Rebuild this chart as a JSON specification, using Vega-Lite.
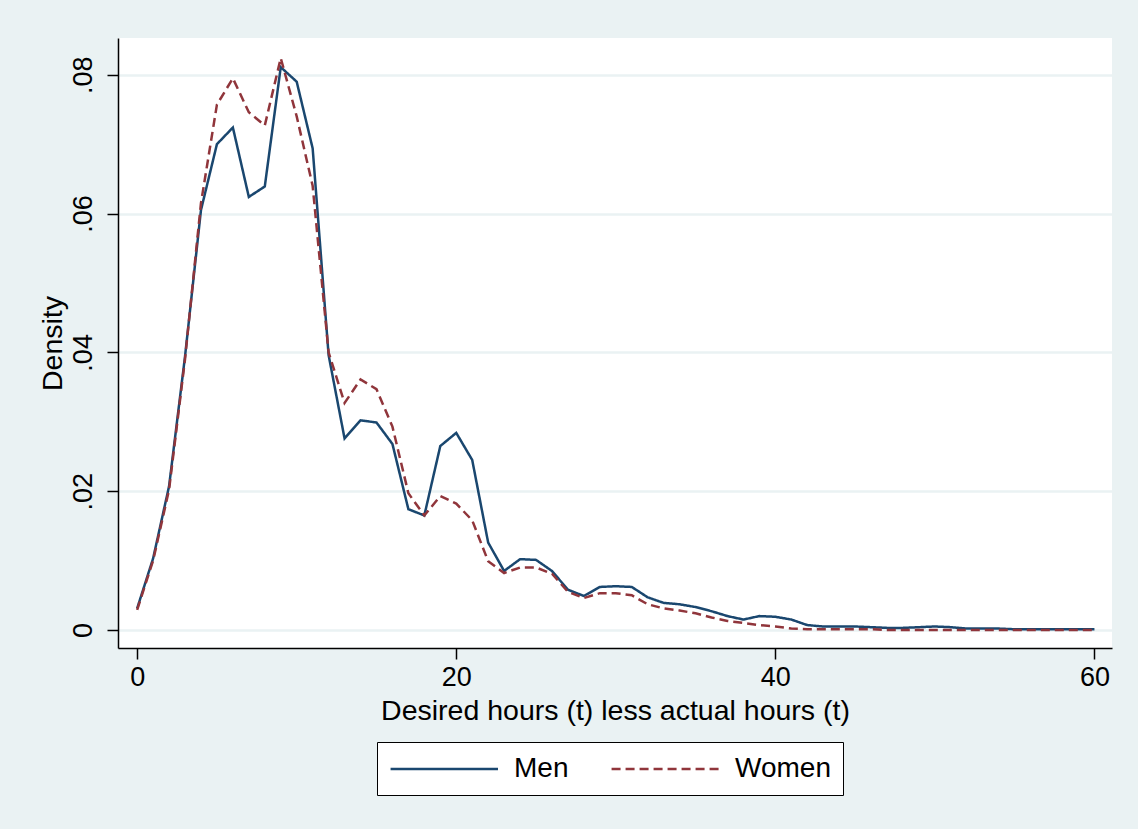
{
  "$schema": "https://vega.github.io/schema/vega-lite/v6.json",
  "autosize": "none",
  "width": 994,
  "height": 610,
  "padding": {"left": 118, "top": 38, "right": 26, "bottom": 181},
  "background": "#eaf2f3",
  "config": {
    "view": {"fill": "white", "stroke": null},
    "font": "Liberation Sans",
    "axis": {"labelFont": "Liberation Sans", "titleFont": "Liberation Sans", "labelColor": "black", "titleColor": "black", "titleFontWeight": "normal", "domainColor": "black", "tickColor": "black", "domainWidth": 1.5, "tickWidth": 1.5, "tickSize": 11}
  },
  "datasets": {
    "dens": [
      {"x":0,"g":"Men","d":0.0031},{"x":1,"g":"Men","d":0.0103},{"x":2,"g":"Men","d":0.0207},{"x":3,"g":"Men","d":0.0394},{"x":4,"g":"Men","d":0.0605},{"x":5,"g":"Men","d":0.0700},{"x":6,"g":"Men","d":0.0724},{"x":7,"g":"Men","d":0.0624},{"x":8,"g":"Men","d":0.0639},{"x":9,"g":"Men","d":0.0811},{"x":10,"g":"Men","d":0.0790},{"x":11,"g":"Men","d":0.0694},{"x":12,"g":"Men","d":0.0396},{"x":13,"g":"Men","d":0.0276},{"x":14,"g":"Men","d":0.0302},{"x":15,"g":"Men","d":0.0299},{"x":16,"g":"Men","d":0.0268},{"x":17,"g":"Men","d":0.0174},{"x":18,"g":"Men","d":0.0165},{"x":19,"g":"Men","d":0.0265},{"x":20,"g":"Men","d":0.0284},{"x":21,"g":"Men","d":0.0245},{"x":22,"g":"Men","d":0.0126},{"x":23,"g":"Men","d":0.0085},{"x":24,"g":"Men","d":0.0102},{"x":25,"g":"Men","d":0.0101},{"x":26,"g":"Men","d":0.0085},{"x":27,"g":"Men","d":0.0058},{"x":28,"g":"Men","d":0.0049},{"x":29,"g":"Men","d":0.0062},{"x":30,"g":"Men","d":0.0063},{"x":31,"g":"Men","d":0.0062},{"x":32,"g":"Men","d":0.0047},{"x":33,"g":"Men","d":0.0039},{"x":34,"g":"Men","d":0.0037},{"x":35,"g":"Men","d":0.0033},{"x":36,"g":"Men","d":0.0027},{"x":37,"g":"Men","d":0.0020},{"x":38,"g":"Men","d":0.0015},{"x":39,"g":"Men","d":0.0020},{"x":40,"g":"Men","d":0.0019},{"x":41,"g":"Men","d":0.0015},{"x":42,"g":"Men","d":0.0007},{"x":43,"g":"Men","d":0.0005},{"x":44,"g":"Men","d":0.0005},{"x":45,"g":"Men","d":0.0005},{"x":46,"g":"Men","d":0.0004},{"x":47,"g":"Men","d":0.0003},{"x":48,"g":"Men","d":0.0003},{"x":49,"g":"Men","d":0.0004},{"x":50,"g":"Men","d":0.0005},{"x":51,"g":"Men","d":0.0004},{"x":52,"g":"Men","d":0.0002},{"x":53,"g":"Men","d":0.0002},{"x":54,"g":"Men","d":0.0002},{"x":55,"g":"Men","d":0.0001},{"x":56,"g":"Men","d":0.0001},{"x":57,"g":"Men","d":0.0001},{"x":58,"g":"Men","d":0.0001},{"x":59,"g":"Men","d":0.0001},{"x":60,"g":"Men","d":0.0001},
      {"x":0,"g":"Women","d":0.0029},{"x":1,"g":"Women","d":0.0100},{"x":2,"g":"Women","d":0.0202},{"x":3,"g":"Women","d":0.0390},{"x":4,"g":"Women","d":0.0615},{"x":5,"g":"Women","d":0.0757},{"x":6,"g":"Women","d":0.0795},{"x":7,"g":"Women","d":0.0746},{"x":8,"g":"Women","d":0.0727},{"x":9,"g":"Women","d":0.0824},{"x":10,"g":"Women","d":0.0740},{"x":11,"g":"Women","d":0.0640},{"x":12,"g":"Women","d":0.0400},{"x":13,"g":"Women","d":0.0327},{"x":14,"g":"Women","d":0.0361},{"x":15,"g":"Women","d":0.0347},{"x":16,"g":"Women","d":0.0293},{"x":17,"g":"Women","d":0.0197},{"x":18,"g":"Women","d":0.0165},{"x":19,"g":"Women","d":0.0193},{"x":20,"g":"Women","d":0.0182},{"x":21,"g":"Women","d":0.0158},{"x":22,"g":"Women","d":0.0099},{"x":23,"g":"Women","d":0.0082},{"x":24,"g":"Women","d":0.0090},{"x":25,"g":"Women","d":0.0090},{"x":26,"g":"Women","d":0.0081},{"x":27,"g":"Women","d":0.0055},{"x":28,"g":"Women","d":0.0046},{"x":29,"g":"Women","d":0.0053},{"x":30,"g":"Women","d":0.0053},{"x":31,"g":"Women","d":0.0050},{"x":32,"g":"Women","d":0.0037},{"x":33,"g":"Women","d":0.0031},{"x":34,"g":"Women","d":0.0028},{"x":35,"g":"Women","d":0.0024},{"x":36,"g":"Women","d":0.0018},{"x":37,"g":"Women","d":0.0013},{"x":38,"g":"Women","d":0.0010},{"x":39,"g":"Women","d":0.0007},{"x":40,"g":"Women","d":0.0005},{"x":41,"g":"Women","d":0.0002},{"x":42,"g":"Women","d":0.0001},{"x":43,"g":"Women","d":0.0001},{"x":44,"g":"Women","d":0.0001},{"x":45,"g":"Women","d":0.0001},{"x":46,"g":"Women","d":0.0001},{"x":47,"g":"Women","d":0.0},{"x":48,"g":"Women","d":0.0},{"x":49,"g":"Women","d":0.0},{"x":50,"g":"Women","d":0.0},{"x":51,"g":"Women","d":0.0},{"x":52,"g":"Women","d":0.0},{"x":53,"g":"Women","d":0.0},{"x":54,"g":"Women","d":0.0},{"x":55,"g":"Women","d":0.0},{"x":56,"g":"Women","d":0.0},{"x":57,"g":"Women","d":0.0},{"x":58,"g":"Women","d":0.0},{"x":59,"g":"Women","d":0.0},{"x":60,"g":"Women","d":0.0}
    ]
  },
  "data": {"name": "dens"},
  "mark": {"type": "line", "strokeWidth": 2.5},
  "encoding": {
    "x": {
      "field": "x", "type": "quantitative",
      "scale": {"domain": [-1.2, 61.1], "nice": false, "zero": false},
      "axis": {"values": [0, 20, 40, 60], "grid": false, "title": "Desired hours (t) less actual hours (t)", "labelFontSize": 27, "titleFontSize": 28.5, "labelPadding": 5, "titlePadding": 6, "labelFlush": false}
    },
    "y": {
      "field": "d", "type": "quantitative",
      "scale": {"domain": [-0.0026, 0.0853], "nice": false, "zero": false},
      "axis": {"values": [0, 0.02, 0.04, 0.06, 0.08], "grid": true, "gridColor": "#eaf2f3", "gridWidth": 2.5, "title": "Density", "labelFontSize": 27, "titleFontSize": 28.5, "labelAngle": -90, "labelAlign": "center", "labelBaseline": "alphabetic", "labelPadding": 16, "titlePadding": 2, "labelFlush": false,
        "labelExpr": "datum.value == 0 ? '0' : substring(format(datum.value, '.2f'), 1)"}
    },
    "color": {
      "field": "g", "type": "nominal",
      "scale": {"domain": ["Men", "Women"], "range": ["#1a476f", "#90353b"]},
      "legend": {"title": null, "orient": "none", "legendX": 259, "legendY": 704, "direction": "horizontal", "strokeColor": "black", "fillColor": "white", "padding": 12, "symbolType": "M-1,0H7", "symbolSize": 721, "symbolStrokeWidth": 2.5, "labelFontSize": 28, "labelFont": "Liberation Sans", "labelColor": "black", "labelOffset": 95, "columnPadding": 37}
    },
    "strokeDash": {
      "field": "g", "type": "nominal",
      "scale": {"domain": ["Men", "Women"], "range": [[1, 0], [9, 5]]},
      "legend": null
    }
  }
}
